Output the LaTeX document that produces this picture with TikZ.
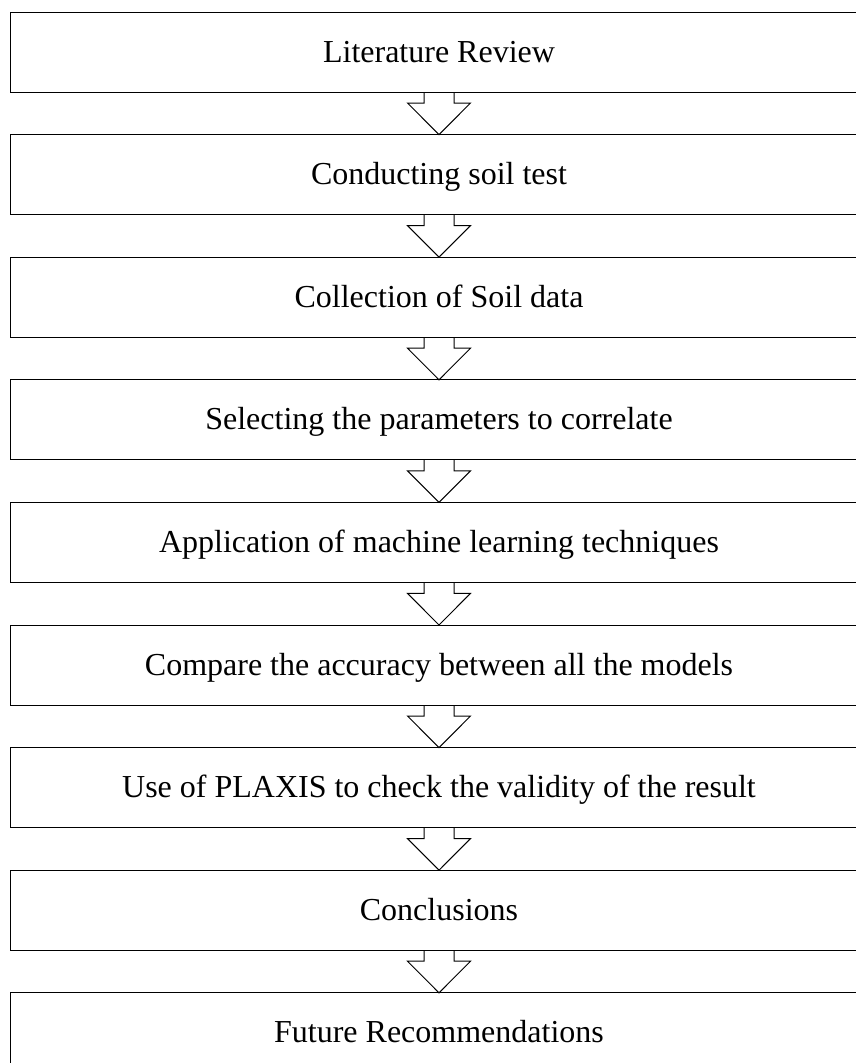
\documentclass[tikz,border=0pt]{standalone}
\usepackage{fontspec}
\setmainfont{Liberation Serif}
\usetikzlibrary{positioning}

\begin{document}
\begin{tikzpicture}[x=1pt, y=1pt,
	stage/.style={draw, line width=1pt, rectangle, minimum width=858pt, minimum height=80pt,
		inner sep=0pt, outer sep=0pt, text height=22pt, text depth=2pt,
		font=\fontsize{32}{38}\selectfont},
	flow/.style={draw, line width=1pt, line join=miter}]
			\useasboundingbox (0,0) rectangle (856,-1063);
			\clip (0,0) rectangle (856,-1063);

			\node [stage] (s1) at (439,-52) {Literature Review};
			\node [stage, below=42.6pt of s1] (s2) {Conducting soil test};
			\node [stage, below=42.6pt of s2] (s3) {Collection of Soil data};
			\node [stage, below=42.6pt of s3] (s4) {Selecting the parameters to correlate};
			\node [stage, below=42.6pt of s4] (s5) {Application of machine learning techniques};
			\node [stage, below=42.6pt of s5] (s6) {Compare the accuracy between all the models};
			\node [stage, below=42.6pt of s6] (s7) {Use of PLAXIS to check the validity of the result};
			\node [stage, below=42.6pt of s7] (s8) {Conclusions};
			\node [stage, below=42.6pt of s8] (s9) {Future Recommendations};

			\foreach \a/\b in {s1/s2, s2/s3, s3/s4, s4/s5, s5/s6, s6/s7, s7/s8, s8/s9}
				\draw [flow] (\a.south) ++(-15,0) -- ++(0,-11) -- ++(-16.5,0) -- (\b.north)
					-- ++(31.5,31.6) -- ++(-16.5,0) -- ++(0,11);
		\end{tikzpicture}
\end{document}
